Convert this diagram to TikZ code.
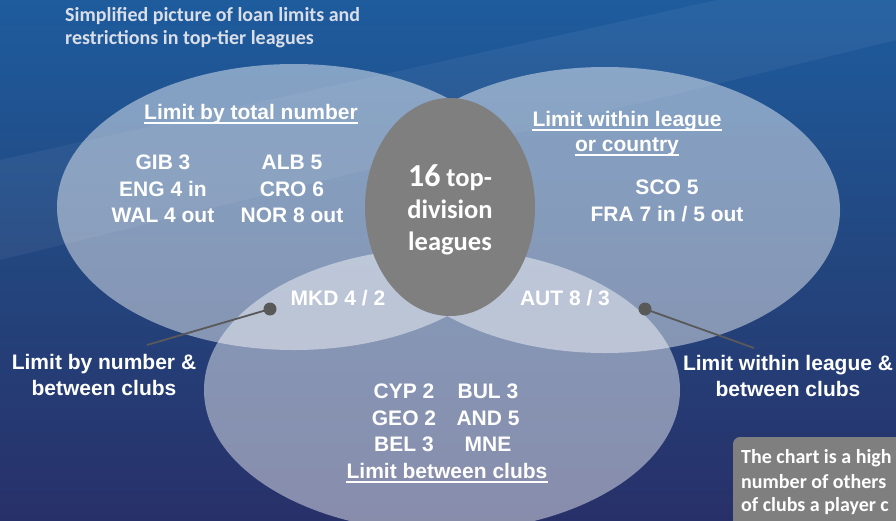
\documentclass[tikz,border=0pt]{standalone}
\usepackage{fontspec}
\setmainfont{Liberation Sans}
\newfontfamily\calfont{Carlito}
\definecolor{bgtop}{HTML}{1E5C9E}
\definecolor{bgmid}{HTML}{23467F}
\definecolor{bgbot}{HTML}{283069}
\definecolor{hubgrey}{HTML}{7F7F7F}
\definecolor{dotgrey}{HTML}{595959}
\definecolor{titlecol}{HTML}{D9DEE8}
\tikzset{
  lab/.style={text=white, font=\bfseries\fontsize{21}{26.5}\selectfont, align=center, inner sep=0pt},
  head/.style={lab},
  ulline/.style={white, line width=1.5pt},
  venn/.style={fill=white, fill opacity=0.45},
  pointer/.style={draw=dotgrey, line width=1.8pt},
  dotnode/.style={circle, fill=dotgrey, minimum size=13pt, inner sep=0pt},
  boxtxt/.style={text=white, font=\calfont\bfseries\fontsize{20}{24}\selectfont, anchor=west, inner sep=0pt},
}
\begin{document}
\begin{tikzpicture}[x=1pt,y=-1pt]
\useasboundingbox (0,0) rectangle (896,520);
\clip (0,0) rectangle (896,520);
% background
\shade[top color=bgtop, bottom color=bgbot, middle color=bgmid] (0,0) rectangle (896,520);
\fill[white, opacity=0.05] (0,160) -- (896,-40) -- (896,40) -- (0,260) -- cycle;
% venn ellipses
\fill[venn] (294,207) ellipse [x radius=237, y radius=143];
\fill[venn] (605,210) ellipse [x radius=235, y radius=143];
\fill[venn] (442,390) ellipse [x radius=238, y radius=142];
\fill[hubgrey] (450,207) ellipse [x radius=85, y radius=109];
% title
\node[text=titlecol, font=\calfont\bfseries\fontsize{20}{23}\selectfont, align=left, anchor=north west, inner sep=0pt] (title) at (65,7) {Simplified picture of loan limits and\\restrictions in top-tier leagues};
% left set
\node[head] (hTotal) at (251,114) {Limit by total number};
\draw[ulline] ([yshift=-3.5pt]hTotal.base west) -- ([yshift=-3.5pt]hTotal.base east);
\node[lab] (gib) at (163,189) {GIB 3\\ENG 4 in\\WAL 4 out};
\node[lab] (alb) at (292,189) {ALB 5\\CRO 6\\NOR 8 out};
% centre
\node[text=white, font=\calfont\bfseries\fontsize{26.5}{32}\selectfont, align=center, inner sep=0pt] (hub) at (450,210) {{\fontsize{32}{32}\selectfont 16} top-\\division\\leagues};
% right set
\node[head] (hLeague) at (627,121) {Limit within league};
\draw[ulline] ([yshift=-3.5pt]hLeague.base west) -- ([yshift=-3.5pt]hLeague.base east);
\node[head] (hCountry) at (627,147) {or country};
\draw[ulline] ([yshift=-3.5pt]hCountry.base west) -- ([yshift=-3.5pt]hCountry.base east);
\node[lab] (sco) at (667,201) {SCO 5\\FRA 7 in / 5 out};
% overlaps
\node[lab] (mkd) at (338,298) {MKD 4 / 2};
\node[lab] (aut) at (565,298) {AUT 8 / 3};
% bottom set
\node[lab] (cyp) at (404,418) {CYP 2\\GEO 2\\BEL 3};
\node[lab] (bul) at (488,418) {BUL 3\\AND 5\\MNE};
\node[head] (hClubs) at (447,471) {Limit between clubs};
\draw[ulline] ([yshift=-3.5pt]hClubs.base west) -- ([yshift=-3.5pt]hClubs.base east);
% side labels and pointers
\node[lab] (lNumber) at (104,375) {Limit by number \&\\between clubs};
\node[lab] (lLeague) at (788,376) {Limit within league \&\\between clubs};
\coordinate (endL) at (147,345);
\coordinate (endR) at (754,348);
\node[dotnode] (dotL) at (270,309) {};
\node[dotnode] (dotR) at (645,309) {};
\draw[pointer] (dotL.center) -- (endL);
\draw[pointer] (dotR.center) -- (endR);
% note box
\fill[hubgrey, rounded corners=7pt] (733,437) rectangle (920,540);
\node[boxtxt] (note1) at (741,458) {The chart is a high};
\node[boxtxt] (note2) at (741,482) {number of others};
\node[boxtxt] (note3) at (741,506) {of clubs a player c};
\end{tikzpicture}
\end{document}
